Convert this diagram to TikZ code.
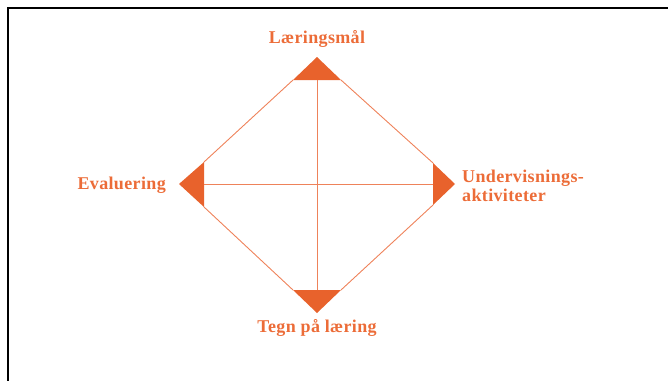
\documentclass[tikz,border=0pt]{standalone}
\usepackage{fontspec}
\setmainfont{Liberation Serif}[LetterSpace=2]
\definecolor{orng}{RGB}{232,98,44}
\definecolor{orngtxt}{RGB}{236,108,56}
\definecolor{orngline}{RGB}{238,130,90}
\begin{document}
\begin{tikzpicture}[x=1pt,y=-1pt,
  lbl/.style={text=orngtxt,font=\fontsize{18}{19}\selectfont\bfseries,inner sep=0pt},
  edge/.style={draw=orngline,line width=0.9pt},
  tri/.style={fill=orng,draw=none}]
\useasboundingbox (0,0) rectangle (671,380);
\draw[line width=2pt,line cap=rect] (8,380) -- (8,8) -- (667,8);
% corner points
\coordinate (T) at (317,57);
\coordinate (R) at (455,184);
\coordinate (B) at (317,313);
\coordinate (L) at (179,184);
\coordinate (TL) at (293,80);
\coordinate (TR) at (341,80);
\coordinate (RT) at (433,163);
\coordinate (RB) at (433,205);
\coordinate (BR) at (341,290);
\coordinate (BL) at (293,290);
\coordinate (LB) at (204,207);
\coordinate (LT) at (204,162);
\coordinate (Tm) at (317,80);
\coordinate (Bm) at (317,290);
\coordinate (Lm) at (204,184);
\coordinate (Rm) at (433,184);
% triangles
\fill[tri] (T) -- (TR) -- (TL) -- cycle;
\fill[tri] (R) -- (RB) -- (RT) -- cycle;
\fill[tri] (B) -- (BL) -- (BR) -- cycle;
\fill[tri] (L) -- (LT) -- (LB) -- cycle;
% edges
\draw[edge] (TR) -- (RT);
\draw[edge] (RB) -- (BR);
\draw[edge] (BL) -- (LB);
\draw[edge] (LT) -- (TL);
\draw[edge] (Tm) -- (Bm);
\draw[edge] (Lm) -- (Rm);
% labels
\node[lbl] (top) at (317,39) {Læringsmål};
\node[lbl,anchor=east] (left) at (166,185) {Evaluering};
\node[lbl,anchor=west,align=left] (right) at (462,186) {Undervisnings-\\aktiviteter};
\node[lbl] (bot) at (317,328) {Tegn på læring};
\end{tikzpicture}
\end{document}
